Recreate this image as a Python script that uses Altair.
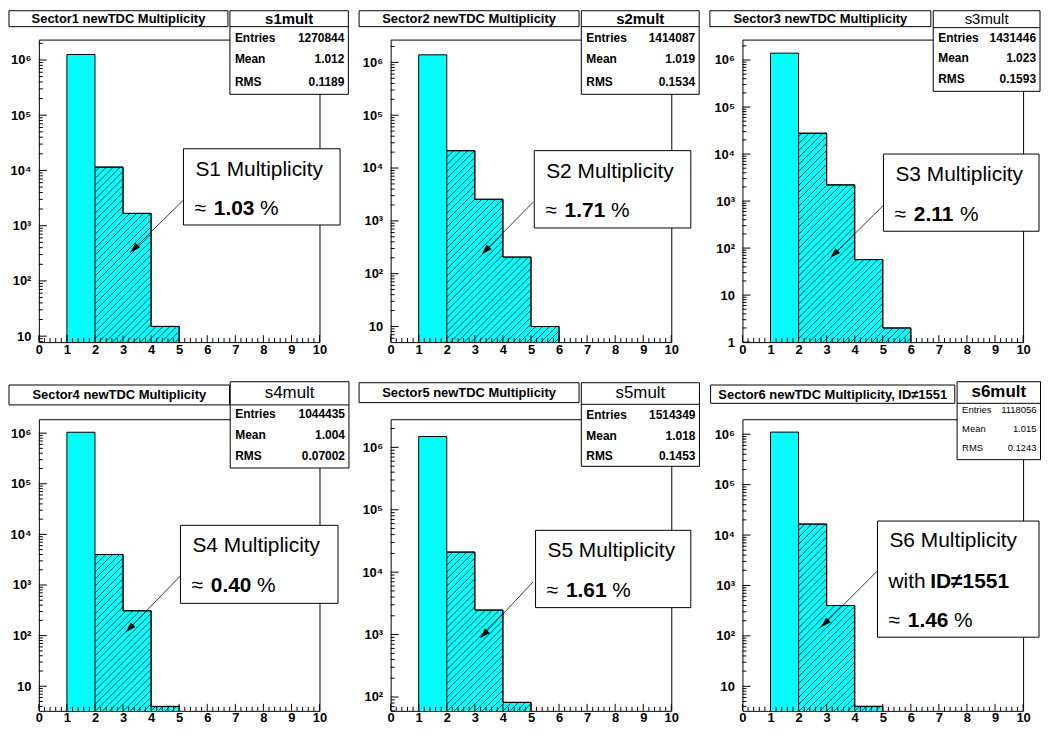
import math
import altair as alt
import pandas as pd

# ---------------- data ----------------
bin_edges = [1, 2, 3, 4, 5, 6]
s1_counts = [1257700, 11500, 1670, 15]
s2_counts = [1390000, 21300, 2560, 206, 10]
s3_counts = [1401500, 27700, 2210, 57, 2]
s4_counts = [1040100, 4000, 310, 4]
s5_counts = [1490800, 21000, 2470, 82]
s6_counts = [1101200, 16500, 400, 4]

panel_titles = ["Sector1 newTDC Multiplicity", "Sector2 newTDC Multiplicity",
                "Sector3 newTDC Multiplicity", "Sector4 newTDC Multiplicity",
                "Sector5 newTDC Multiplicity", "Sector6 newTDC Multiplicity, ID\u22601551"]
stat_names = ["s1mult", "s2mult", "s3mult", "s4mult", "s5mult", "s6mult"]
stat_entries = ["1270844", "1414087", "1431446", "1044435", "1514349", "1118056"]
stat_means = ["1.012", "1.019", "1.023", "1.004", "1.018", "1.015"]
stat_rms = ["0.1189", "0.1534", "0.1593", "0.07002", "0.1453", "0.1243"]
label_heads = ["S1 Multiplicity", "S2 Multiplicity", "S3 Multiplicity",
               "S4 Multiplicity", "S5 Multiplicity", "S6 Multiplicity"]
label_pcts = ["1.03", "1.71", "2.11", "0.40", "1.61", "1.46"]
y_ranges = [(7.8, 2.34e6), (5.06, 2.7e6), (1.0, 2.72e6),
            (3.27, 1.88e6), (60.0, 2.82e6), (3.26, 1.98e6)]
x_labels = list(range(0, 11))

all_counts = [s1_counts, s2_counts, s3_counts, s4_counts, s5_counts, s6_counts]

# ---------------- style / layout ----------------
CYAN = "#00FFFF"
FONT = "Liberation Sans"
W = 282
HEIGHTS = [304, 304, 304, 293, 293, 293]

LAYOUT = [
    dict(title=(-30, 190, -29, -13), stats=(192, 311, -29, 55), sline=-13, shead=-21, hsize=15, hbold=True,
         rows=(-2, 20, 43), rsize=12, rbold=True,
         label=(145.3, 302.7, 109.7, 186.3), lines=(21, 61), arrow=(145.3, 161.3, 92, 213.7)),
    dict(title=(-31.7, 189.3, -29, -13), stats=(191.6, 310, -29, 55), sline=-13, shead=-21, hsize=15, hbold=True,
         rows=(-2, 20, 43), rsize=12, rbold=True,
         label=(144.3, 301.6, 111.6, 189.3), lines=(21, 61), arrow=(143.3, 163.3, 91.6, 215.6)),
    dict(title=(-32.7, 189.3, -29, -13), stats=(191.7, 299, -29, 52), sline=-12, shead=-20.5, hsize=15, hbold=False,
         rows=(-2, 18.5, 40), rsize=12, rbold=True,
         label=(141.7, 298, 115, 192.6), lines=(21, 61), arrow=(141.7, 166.6, 88.3, 219.3)),
    dict(title=(-30, 191.6, -34.4, -14.4), stats=(192.3, 311.6, -37.7, 49), sline=-14.4, shead=-26, hsize=17, hbold=False,
         rows=(-5, 16, 37.3), rsize=12, rbold=True,
         label=(142.3, 300.6, 106.6, 185), lines=(21, 61), arrow=(142.3, 157.3, 87.3, 214)),
    dict(title=(-31.7, 189.3, -36.7, -16.7), stats=(191.6, 310.3, -36.7, 47.3), sline=-15, shead=-26, hsize=17, hbold=False,
         rows=(-4, 16.6, 37), rsize=12, rbold=True,
         label=(145.6, 301.6, 111.6, 189.3), lines=(21, 61), arrow=(143.3, 163.3, 90, 220)),
    dict(title=(-32, 213.4, -34.4, -16), stats=(215.7, 299.5, -37.7, 40.6), sline=-16, shead=-27, hsize=17, hbold=True,
         rows=(-9.4, 9.6, 29), rsize=9.5, rbold=False,
         label=(135.7, 298, 102.3, 219), lines=(20, 61.7, 100), arrow=(135.7, 152.3, 79, 209)),
]

one = pd.DataFrame({"k": [0]})


def box(x1, x2, y1, y2):
    return alt.Chart(one).mark_rect(fill="white", stroke="black", strokeWidth=1).encode(
        x=alt.value(x1), x2=alt.value(x2), y=alt.value(y1), y2=alt.value(y2))


def seg(x1, y1, x2, y2, w=1.0):
    return alt.Chart(one).mark_rule(color="black", strokeWidth=w).encode(
        x=alt.value(x1), y=alt.value(y1), x2=alt.value(x2), y2=alt.value(y2))


def txt(s, x, y, size, bold=False, align="left"):
    return alt.Chart(one).mark_text(
        text=s, align=align, baseline="middle", font=FONT, fontSize=size,
        fontWeight="bold" if bold else "normal", color="black").encode(
        x=alt.value(x), y=alt.value(y))


def hatch_df(counts, H, ymin, ymax, s=7.0):
    lmin, lmax = math.log10(ymin), math.log10(ymax)

    def py(v):
        return H * (lmax - math.log10(v)) / (lmax - lmin)

    def inv(Y):
        return 10 ** (lmax - Y / H * (lmax - lmin))

    rows = []
    for k in range(1, len(counts)):
        x1p = bin_edges[k] / 10 * W
        x2p = bin_edges[k + 1] / 10 * W
        yt = py(counts[k])
        m = 0
        while m * s <= W + H:
            c = m * s
            xa = max(x1p, c - H)
            xb = min(x2p, c - yt)
            if xb - xa > 0.2:
                rows.append(dict(x1=xa / W * 10, x2=xb / W * 10, y1=inv(c - xa), y2=inv(c - xb)))
            m += 1
    return pd.DataFrame(rows)


def outline_df(counts, ymin):
    rows = []
    n = len(counts)

    def path(pid, start):
        pts = [(bin_edges[start], ymin)]
        for k in range(start, n):
            pts.append((bin_edges[k], counts[k]))
            pts.append((bin_edges[k + 1], counts[k]))
        pts.append((bin_edges[n], ymin))
        for i, (x, y) in enumerate(pts):
            rows.append(dict(path=pid, i=i, x=x, y=y))

    path("all", 0)
    path("hatched", 1)
    return pd.DataFrame(rows)


def panel(p):
    counts = all_counts[p]
    H = HEIGHTS[p]
    ymin, ymax = y_ranges[p]
    L = LAYOUT[p]
    n = len(counts)

    xs = alt.Scale(domain=[0, 10], nice=False, zero=False)
    ys = alt.Scale(type="log", domain=[ymin, ymax], nice=False)

    dmin = math.floor(math.log10(ymin) - 1e-9)
    dmax = math.ceil(math.log10(ymax))
    decades = [10.0 ** d for d in range(dmin, dmax + 1) if ymin * (1 - 1e-9) <= 10.0 ** d <= ymax]
    y_minor = [m * 10.0 ** d for d in range(dmin, dmax + 1) for m in range(2, 10)
               if ymin * (1 - 1e-9) <= m * 10.0 ** d <= ymax]
    x_major = [float(v) for v in x_labels]
    x_minor = [round(i * 0.2, 1) for i in range(51) if i % 5 != 0]

    x_label_axis = alt.Axis(values=x_labels, format="d", tickSize=0, ticks=False, domain=False, grid=False,
                            title=None, labelFont=FONT, labelFontWeight="bold", labelFontSize=13,
                            labelColor="black", labelPadding=1, labelFlush=False, labelOverlap=False)
    y_label_axis = alt.Axis(values=decades, tickSize=0, ticks=False, domain=False, grid=False, title=None,
                            labelFont=FONT, labelFontWeight="bold", labelFontSize=13, labelColor="black",
                            labelPadding=8, labelFlush=False, labelOverlap=False,
                            labelExpr="datum.value < 1.5 ? '1' : datum.value < 15 ? '10' : '10' + "
                                      "substring('\u2070\u00b9\u00b2\u00b3\u2074\u2075\u2076\u2077\u2078\u2079', "
                                      "round(log(datum.value)/LN10), round(log(datum.value)/LN10) + 1)")

    bars = pd.DataFrame({"lo": bin_edges[:n], "hi": bin_edges[1:n + 1], "count": counts,
                         "base": [ymin] * n})
    bar_layer = alt.Chart(bars).mark_rect(fill=CYAN, strokeWidth=0).encode(
        x=alt.X("lo:Q", scale=xs, axis=x_label_axis), x2="hi",
        y=alt.Y("count:Q", scale=ys, axis=y_label_axis), y2="base")

    hatch_layer = alt.Chart(hatch_df(counts, H, ymin, ymax)).mark_rule(color="#111111", strokeWidth=0.8).encode(
        x=alt.X("x1:Q", scale=xs, axis=None), x2="x2",
        y=alt.Y("y1:Q", scale=ys, axis=None), y2="y2")

    outline_layer = alt.Chart(outline_df(counts, ymin)).mark_line(color="black", strokeWidth=1).encode(
        x=alt.X("x:Q", scale=xs, axis=None),
        y=alt.Y("y:Q", scale=ys, axis=None),
        detail="path:N", order="i:Q")

    def xtick_layer(vals, ln):
        return alt.Chart(pd.DataFrame({"t": vals})).mark_rule(color="black", strokeWidth=1).encode(
            x=alt.X("t:Q", scale=xs, axis=None), y=alt.value(H), y2=alt.value(H - ln))

    def ytick_layer(vals, ln):
        return alt.Chart(pd.DataFrame({"v": vals})).mark_rule(color="black", strokeWidth=1).encode(
            y=alt.Y("v:Q", scale=ys, axis=None), x=alt.value(0), x2=alt.value(ln))

    layers = [bar_layer, hatch_layer, outline_layer,
              xtick_layer(x_major, 7), xtick_layer(x_minor, 4),
              ytick_layer(decades, 8), ytick_layer(y_minor, 4)]

    # arrow
    ax1, ay1, ax2, ay2 = L["arrow"]
    layers.append(seg(ax1, ay1, ax2, ay2, 0.8))
    ang = math.degrees(math.atan2(ax2 - ax1, -(ay2 - ay1))) % 360
    layers.append(alt.Chart(one).mark_point(shape="M0,0L-0.45,1.4L0.45,1.4Z", filled=True, fill="black",
                                            size=220, angle=ang, opacity=1, strokeWidth=0).encode(
        x=alt.value(ax2), y=alt.value(ay2)))

    # title box
    tx1, tx2, ty1, ty2 = L["title"]
    layers.append(box(tx1, tx2, ty1, ty2))
    layers.append(txt(panel_titles[p], (tx1 + tx2) / 2, (ty1 + ty2) / 2 + 0.5, 13, True, "center"))

    # stats box
    sx1, sx2, sy1, sy2 = L["stats"]
    layers.append(box(sx1, sx2, sy1, sy2))
    layers.append(seg(sx1, L["sline"], sx2, L["sline"]))
    layers.append(txt(stat_names[p], (sx1 + sx2) / 2, L["shead"], L["hsize"], L["hbold"], "center"))
    for name, val, yy in zip(["Entries", "Mean", "RMS"],
                             [stat_entries[p], stat_means[p], stat_rms[p]], L["rows"]):
        layers.append(txt(name, sx1 + 5, yy, L["rsize"], L["rbold"], "left"))
        layers.append(txt(val, sx2 - 4, yy, L["rsize"], L["rbold"], "right"))

    # label box
    lx1, lx2, ly1, ly2 = L["label"]
    layers.append(box(lx1, lx2, ly1, ly2))
    lines = L["lines"]
    layers.append(txt(label_heads[p], lx1 + 12, ly1 + lines[0], 21))
    if len(lines) == 3:
        layers.append(txt("with", lx1 + 11, ly1 + lines[1], 21))
        layers.append(txt("ID\u22601551", lx1 + 53, ly1 + lines[1], 21, True))
    yv = ly1 + lines[-1]
    layers.append(txt("\u2248", lx1 + 11, yv, 21))
    layers.append(txt(label_pcts[p], lx1 + 30.5, yv, 21, True))
    layers.append(txt("%", lx1 + 77, yv, 21))

    return alt.layer(*layers).properties(width=W, height=H).resolve_axis(x="independent", y="independent")


panels = [panel(p) for p in range(6)]

chart = alt.ConcatChart(
    concat=panels, columns=3, bounds="flush",
    spacing={"row": 77.5, "column": 71.5},
).properties(
    padding={"left": 0, "top": 0, "right": 0, "bottom": 0},
    background="white",
).configure_view(stroke="black", strokeWidth=1)

chart.save("out.html", embed_options={"renderer": "svg", "actions": False})
